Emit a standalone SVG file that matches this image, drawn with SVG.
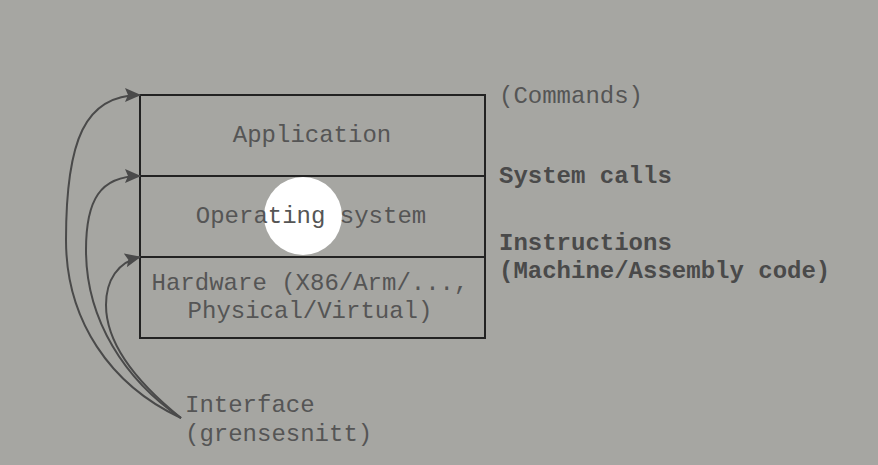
<svg xmlns="http://www.w3.org/2000/svg" width="878" height="465" viewBox="0 0 878 465">
<defs>
<marker id="ah" markerWidth="16" markerHeight="14" refX="15" refY="7" orient="auto" markerUnits="userSpaceOnUse" viewBox="0 0 16 14">
<path d="M0,0 L16,7 L0,14 L3,7 z" fill="#4a4a4a"/>
</marker>
<style>
.t{font-family:"Liberation Mono","DejaVu Sans Mono",monospace;font-size:24px;fill:#555555}
.b{font-weight:bold;fill:#4a4a4a}
.c{fill:none;stroke:#4a4a4a;stroke-width:2}
</style>
</defs>
<rect width="878" height="465" fill="#a6a6a2"/>
<circle cx="303" cy="216" r="39" fill="#ffffff"/>
<g id="application">
<rect x="140" y="95" width="345" height="81" fill="none" stroke="#222" stroke-width="2"/>
<text class="t" x="312" y="142" text-anchor="middle">Application</text>
</g>
<g id="os">
<rect x="140" y="176" width="345" height="81" fill="none" stroke="#222" stroke-width="2"/>
<text class="t" x="311" y="223" text-anchor="middle">Operating system</text>
</g>
<g id="hardware">
<rect x="140" y="257" width="345" height="81" fill="none" stroke="#222" stroke-width="2"/>
<text class="t" x="310" y="290" text-anchor="middle">Hardware (X86/Arm/...,</text>
<text class="t" x="310" y="318" text-anchor="middle">Physical/Virtual)</text>
</g>
<g id="labels">
<text class="t" x="499" y="103">(Commands)</text>
<text class="t b" x="499" y="183">System calls</text>
<text class="t b" x="499" y="250">Instructions</text>
<text class="t b" x="499" y="278">(Machine/Assembly code)</text>
</g>
<g id="interface">
<text class="t" x="185" y="412">Interface</text>
<text class="t" x="185" y="441">(grensesnitt)</text>
</g>
<g id="connectors">
<path class="c" marker-end="url(#ah)" d="M181,418 C110,385 66,320 66,240 C66,140 85,95 140,95"/>
<path class="c" marker-end="url(#ah)" d="M181,418 C125,380 86,320 86,250 C86,200 100,176 140,176"/>
<path class="c" marker-end="url(#ah)" d="M181,418 C140,385 106,345 106,305 C106,280 118,262 140,257"/>
</g>
</svg>
